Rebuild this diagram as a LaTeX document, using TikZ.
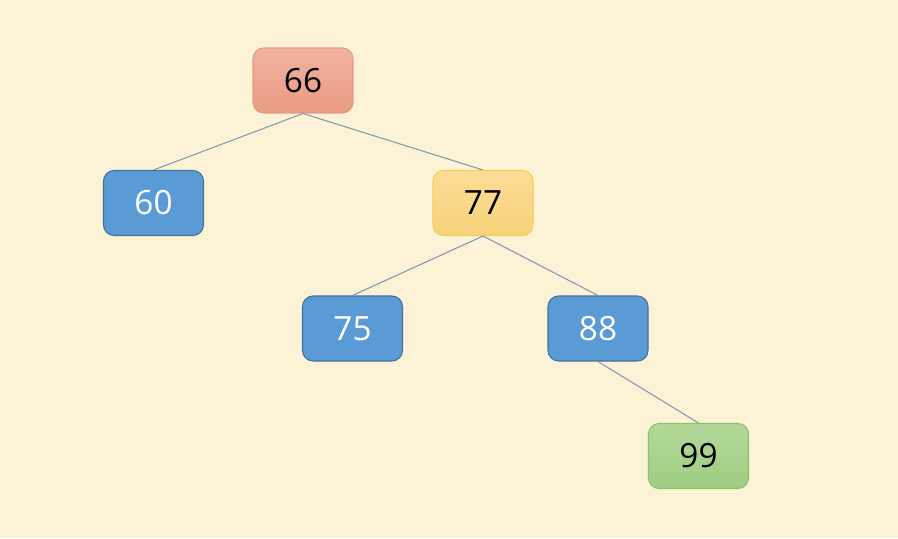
\documentclass[tikz,border=0pt]{standalone}
\usepackage{fontspec}
\setmainfont{Open Sans}
\usetikzlibrary{shapes.geometric, arrows}
\definecolor{bgcream}{HTML}{FCF3D6}
\definecolor{edgegray}{HTML}{8497B0}
\definecolor{rootline}{HTML}{E39A84}
\definecolor{roottop}{HTML}{F0B2A0}
\definecolor{rootbot}{HTML}{E99B84}
\definecolor{midline}{HTML}{F5CD5A}
\definecolor{midtop}{HTML}{FCDD98}
\definecolor{midbot}{HTML}{F8D27A}
\definecolor{leafline}{HTML}{41719C}
\definecolor{leaffill}{HTML}{5B9BD5}
\definecolor{newline}{HTML}{8CBF6E}
\definecolor{newtop}{HTML}{B2D89A}
\definecolor{newbot}{HTML}{9FCD82}
\tikzstyle{keybox} = [rectangle, rounded corners=6pt,
minimum width=2cm,
minimum height=1.3cm,
text centered,
font=\fontsize{19}{22}\selectfont,
line width=0.6pt]
\tikzstyle{rootkey} = [keybox,
draw=rootline,
top color=roottop, bottom color=rootbot]
\tikzstyle{midkey} = [keybox,
draw=midline,
top color=midtop, bottom color=midbot]
\tikzstyle{leafkey} = [keybox,
draw=leafline,
fill=leaffill,
text=white]
\tikzstyle{newkey} = [keybox,
draw=newline,
top color=newtop, bottom color=newbot]
\tikzstyle{link} = [draw=edgegray, line width=0.6pt]

\begin{document}
\begin{tikzpicture}[x=0.02cm, y=-0.02cm]
\fill[bgcream] (0,0) rectangle (898,538);
\useasboundingbox (0,0) rectangle (898,538);

\node (k66) [rootkey] at (303,80.5) {66};
\node (k60) [leafkey] at (153.5,203) {60};
\node (k77) [midkey] at (483,203) {77};
\node (k75) [leafkey] at (352.5,328.5) {75};
\node (k88) [leafkey] at (598,328.5) {88};
\node (k99) [newkey] at (698.5,456) {99};

\draw [link] (k66.south) -- (k60.north);
\draw [link] (k66.south) -- (k77.north);
\draw [link] (k77.south) -- (k75.north);
\draw [link] (k77.south) -- (k88.north);
\draw [link] (k88.south) -- (k99.north);

\end{tikzpicture}
\end{document}
